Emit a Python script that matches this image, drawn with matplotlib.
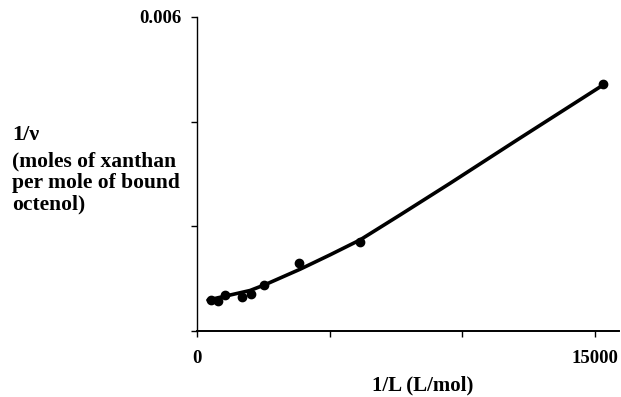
import matplotlib.pyplot as plt

# measured points (1/L, 1/nu)
inv_L = [528, 780, 1055, 1685, 2035, 2536, 3844, 6143, 15313]
inv_nu = [0.000592, 0.000573, 0.000688, 0.000644, 0.000701, 0.000879, 0.001305, 0.001706, 0.004714]

# fitted curve
fit_L = [415, 1998, 2563, 3882, 5013, 6143, 7651, 9535, 12060, 15302]
fit_nu = [0.000592, 0.000774, 0.000885, 0.001180, 0.001455, 0.001740, 0.002217, 0.002822, 0.003650, 0.004701]

x_ticks = [0, 5000, 10000, 15000]
x_ticklabels = ['0', '', '', '15000']
y_ticks = [0, 0.002, 0.004, 0.006]
y_ticklabels = ['', '', '', '0.006']

plt.rcParams['font.family'] = ['Liberation Serif', 'DejaVu Serif']
plt.rcParams['font.weight'] = 'bold'

fig = plt.figure(figsize=(6.21, 3.97), dpi=100)
ax = fig.add_axes([0.3172, 0.1662, 0.6795, 0.791])

ax.plot(fit_L, fit_nu, color='black', lw=2.6, solid_capstyle='round',
        solid_joinstyle='round')
ax.plot(inv_L, inv_nu, 'o', color='black', ms=6)

ax.set_xlim(0, 15900)
ax.set_ylim(0, 0.006)

ax.spines['top'].set_visible(False)
ax.spines['right'].set_visible(False)
ax.spines['left'].set_linewidth(1.0)
ax.spines['bottom'].set_linewidth(1.4)

ax.set_xticks(x_ticks)
ax.set_xticklabels(x_ticklabels)
ax.set_yticks(y_ticks)
ax.set_yticklabels(y_ticklabels)
ax.tick_params(axis='both', direction='out', length=4, width=1, labelsize=13.5)
ax.tick_params(axis='x', pad=10)
ax.tick_params(axis='y', pad=7)

ax.set_xlabel('1/L (L/mol)', fontsize=15, fontweight='bold', labelpad=6, x=0.536)

fig.text(0.019, 0.66, '1/\u03bd', fontsize=16, fontweight='bold', va='center')
fig.text(0.019, 0.539, '(moles of xanthan\nper mole of bound\noctenol)', fontsize=15.5,
         fontweight='bold', va='center', linespacing=1.13)

fig.savefig('out.png', dpi=100)
